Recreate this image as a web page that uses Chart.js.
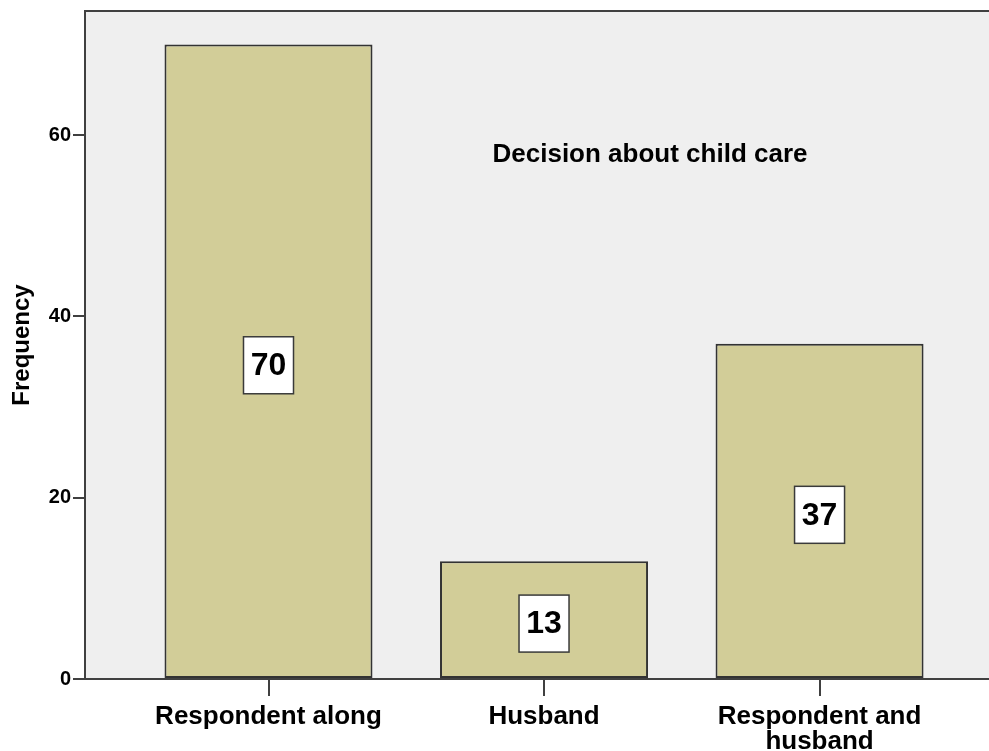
<!DOCTYPE html>
<html>
<head>
<meta charset="utf-8">
<script src="https://cdn.jsdelivr.net/npm/chart.js@4/dist/chart.umd.min.js"></script>
<style>
  html, body { margin: 0; padding: 0; background: #ffffff; overflow: hidden; }
  #chart { display: block; }
</style>
</head>
<body>
<canvas id="chart" width="989" height="751"></canvas>
<script>
// Decision about child care — frequency bar chart
const categories = [['Respondent along'], ['Husband'], ['Respondent and', 'husband']];
const positions = [1, 2, 3];
const frequencies = [70, 13, 37];
const yTicks = [0, 20, 40, 60];
const chartTitle = 'Decision about child care';

const FONT = 'Arial, "Liberation Sans", Helvetica, sans-serif';
const LINE = '#404040';

// plot background + frame line along the top
const plotBackground = {
  id: 'plotBackground',
  beforeDraw(chart) {
    const { ctx, chartArea: a } = chart;
    ctx.save();
    ctx.fillStyle = '#efefef';
    ctx.fillRect(a.left, a.top, a.right - a.left, a.bottom - a.top);
    ctx.strokeStyle = LINE;
    ctx.lineWidth = 2;
    ctx.beginPath();
    ctx.moveTo(a.left, a.top);
    ctx.lineTo(a.right, a.top);
    ctx.stroke();
    ctx.restore();
  }
};

// boxed value label in the middle of every bar, plus the inner title
const barLabels = {
  id: 'barLabels',
  afterDatasetsDraw(chart) {
    const { ctx } = chart;
    const meta = chart.getDatasetMeta(0);
    const values = chart.data.datasets[0].data;
    ctx.save();
    meta.data.forEach((bar, i) => {
      const cx = bar.x;
      const cy = (bar.y + bar.base) / 2 + 4;
      const w = 50, h = 57;
      ctx.fillStyle = '#ffffff';
      ctx.fillRect(cx - w / 2, cy - h / 2, w, h);
      ctx.strokeStyle = '#3a3a3a';
      ctx.lineWidth = 1.5;
      ctx.strokeRect(cx - w / 2, cy - h / 2, w, h);
      ctx.fillStyle = '#000000';
      ctx.font = 'bold 32px ' + FONT;
      ctx.textAlign = 'center';
      ctx.textBaseline = 'middle';
      ctx.fillText(String(values[i].y), cx, cy + 1);
    });
    ctx.font = 'bold 26px ' + FONT;
    ctx.fillStyle = '#000000';
    ctx.textAlign = 'center';
    ctx.textBaseline = 'middle';
    ctx.fillText(chartTitle, 650, 155);
    ctx.restore();
  }
};

new Chart(document.getElementById('chart'), {
  type: 'bar',
  data: {
    datasets: [{
      label: 'Frequency',
      data: positions.map((x, i) => ({ x, y: frequencies[i] })),
      backgroundColor: '#d2cd98',
      borderColor: '#333333',
      borderWidth: 2,
      borderSkipped: false,
      categoryPercentage: 1,
      barPercentage: 0.755
    }]
  },
  options: {
    responsive: false,
    animation: false,
    devicePixelRatio: 1,
    layout: { padding: { top: 11, right: 0, left: 0, bottom: 0 } },
    plugins: {
      legend: { display: false },
      tooltip: { enabled: false },
      title: { display: false }
    },
    scales: {
      x: {
        type: 'linear',
        offset: false,
        min: 0.334,
        max: 3.615,
        afterBuildTicks: scale => { scale.ticks = positions.map(v => ({ value: v })); },
        afterFit: scale => { scale.height = 72; },
        ticks: {
          callback: v => categories[positions.indexOf(v)],
          color: '#000000',
          font: { family: FONT, size: 26, weight: 'bold', lineHeight: 0.96 },
          padding: 8,
          maxRotation: 0,
          autoSkip: false
        },
        grid: { drawOnChartArea: false, offset: false, tickLength: 17, color: LINE, lineWidth: 2 },
        border: { display: true, color: LINE, width: 2 }
      },
      y: {
        min: 0,
        max: 73.7,
        afterBuildTicks: scale => { scale.ticks = yTicks.map(v => ({ value: v })); },
        afterFit: scale => {
          scale.width = 85;
          scale.paddingTop = 0;
          scale.paddingBottom = 0;
        },
        ticks: {
          color: '#000000',
          font: { family: FONT, size: 20, weight: 'bold' },
          padding: 2
        },
        grid: { drawOnChartArea: false, tickLength: 12, color: LINE, lineWidth: 2 },
        border: { display: true, color: LINE, width: 2 },
        title: {
          display: true,
          text: 'Frequency',
          color: '#000000',
          font: { family: FONT, size: 24, weight: 'bold' },
          padding: { top: 8, bottom: 0 }
        }
      }
    }
  },
  plugins: [plotBackground, barLabels]
});
</script>
</body>
</html>
